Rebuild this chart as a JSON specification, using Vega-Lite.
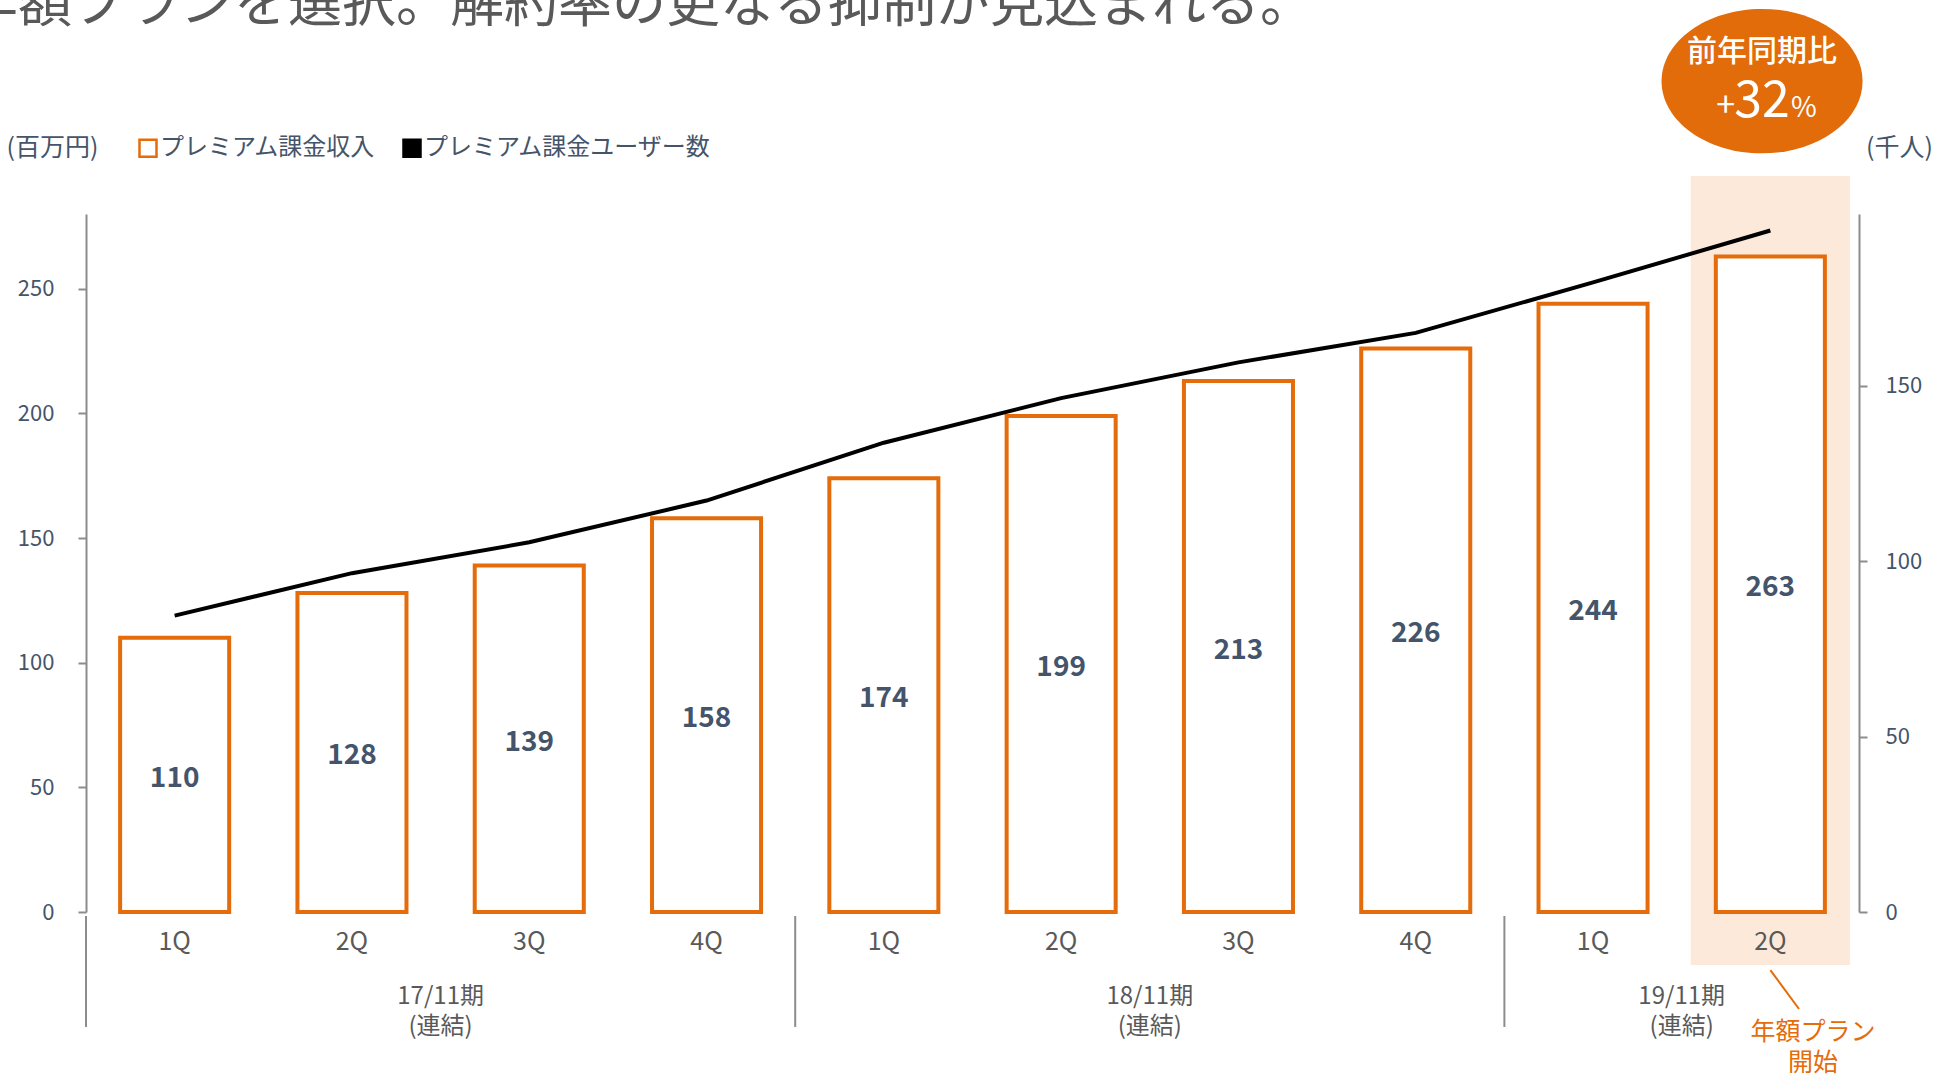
{
  "$schema": "https://vega.github.io/schema/vega-lite/v6.json",
  "width": 1773,
  "height": 698,
  "autosize": {"type": "none"},
  "padding": {"left": 86, "top": 214, "right": 76, "bottom": 162},
  "background": "white",
  "config": {"view": {"stroke": null}, "font": "Noto Sans CJK JP"},
  "title": {
    "text": "年額プランを選択。解約率の更なる抑制が見込まれる。",
    "anchor": "start",
    "frame": "group",
    "dx": -122,
    "offset": -78,
    "fontSize": 54,
    "fontWeight": "normal",
    "color": "#595959",
    "baseline": "bottom"
  },
  "datasets": {
    "main": [
      {"key": "17-1Q", "revenue": 110, "users": 84.5},
      {"key": "17-2Q", "revenue": 128, "users": 96.6},
      {"key": "17-3Q", "revenue": 139, "users": 105.4},
      {"key": "17-4Q", "revenue": 158, "users": 117.3},
      {"key": "18-1Q", "revenue": 174, "users": 133.8},
      {"key": "18-2Q", "revenue": 199, "users": 146.5},
      {"key": "18-3Q", "revenue": 213, "users": 156.7},
      {"key": "18-4Q", "revenue": 226, "users": 165.1},
      {"key": "19-1Q", "revenue": 244, "users": 179.5},
      {"key": "19-2Q", "revenue": 263, "users": 194.3}
    ],
    "periods": [
      {"key": "17-3Q", "label": ["17/11期", "(連結)"]},
      {"key": "18-3Q", "label": ["18/11期", "(連結)"]},
      {"key": "19-2Q", "label": ["19/11期", "(連結)"]}
    ],
    "dividers": [{"key": "17-1Q"}, {"key": "18-1Q"}, {"key": "19-1Q"}],
    "highlight": [
      {"key": "19-2Q", "note": ["年額プラン", "開始"], "badge": "前年同期比", "plus": "+", "num": "32", "pct": "%"}
    ]
  },
  "layer": [
    {
      "layer": [
        {
          "data": {"name": "highlight"},
          "mark": {"type": "bar", "width": {"band": 1.46}, "fill": "#FDE9D9", "strokeWidth": 0},
          "encoding": {
            "x": {"field": "key", "type": "nominal"},
            "y": {"datum": 295.2, "type": "quantitative", "scale": {"domain": [0, 280]}},
            "y2": {"datum": -21.3}
          }
        },
        {
          "data": {"name": "main"},
          "mark": {"type": "bar", "fill": "white", "strokeWidth": 4},
          "encoding": {
            "x": {
              "field": "key",
              "type": "nominal",
              "scale": {
                "domain": ["17-1Q", "17-2Q", "17-3Q", "17-4Q", "18-1Q", "18-2Q", "18-3Q", "18-4Q", "19-1Q", "19-2Q"],
                "paddingInner": 0.385,
                "paddingOuter": 0.1925
              },
              "axis": {
                "title": null,
                "labelExpr": "slice(datum.value, 3)",
                "bandPosition": 0.5,
                "zindex": 2,
                "domain": false,
                "ticks": false,
                "labelFontSize": 25,
                "labelColor": "#595959",
                "labelPadding": 29,
                "labelAlign": "center",
                "labelBaseline": "middle",
                "labelAngle": 0
              }
            },
            "y": {
              "field": "revenue",
              "type": "quantitative",
              "scale": {"domain": [0, 280]},
              "axis": {
                "values": [0, 50, 100, 150, 200, 250],
                "title": "(百万円)",
                "titleAngle": 0,
                "titleX": -34,
                "titleY": -67,
                "titleAlign": "center",
                "titleBaseline": "middle",
                "titleFontSize": 25,
                "titleFontWeight": "normal",
                "titleColor": "#44546A",
                "labelFontSize": 22,
                "labelColor": "#44546A",
                "labelPadding": 24,
                "tickSize": 8,
                "tickColor": "#8c8c8c",
                "tickWidth": 2,
                "domainColor": "#8c8c8c",
                "domainWidth": 2,
                "grid": false
              }
            },
            "stroke": {
              "datum": "プレミアム課金収入",
              "scale": {"domain": ["プレミアム課金収入", "プレミアム課金ユーザー数"], "range": ["#E46C0A", "#000000"]},
              "legend": {
                "orient": "none",
                "legendX": 50,
                "legendY": -78,
                "direction": "horizontal",
                "title": null,
                "symbolType": "square",
                "symbolSize": 289,
                "symbolStrokeWidth": 2.5,
                "labelFontSize": 24,
                "labelColor": "#44546A",
                "labelOffset": 0,
                "columnPadding": 22,
                "labelLimit": 600,
                "padding": 0,
                "encode": {
                  "symbols": {
                    "update": {
                      "fill": {"signal": "datum.value === 'プレミアム課金ユーザー数' ? '#000000' : 'transparent'"}
                    }
                  }
                }
              }
            }
          }
        },
        {
          "data": {"name": "main"},
          "mark": {"type": "text", "fontSize": 28, "fontWeight": "bold", "color": "#44546A", "baseline": "middle", "dy": 4},
          "encoding": {
            "x": {"field": "key", "type": "nominal"},
            "y": {"field": "revenue", "type": "quantitative", "stack": "zero", "bandPosition": 0.5},
            "text": {"field": "revenue", "type": "quantitative"}
          }
        },
        {
          "data": {"name": "highlight"},
          "mark": {
            "type": "point",
            "shape": "M -1 0 C -1 -0.3965 -0.5523 -0.718 0 -0.718 C 0.5523 -0.718 1 -0.3965 1 0 C 1 0.3965 0.5523 0.718 0 0.718 C -0.5523 0.718 -1 0.3965 -1 0 Z",
            "size": 40401,
            "filled": true,
            "fill": "#E26B0A",
            "opacity": 1,
            "strokeWidth": 0
          },
          "encoding": {
            "x": {"field": "key", "type": "nominal", "bandPosition": 0.424},
            "y": {"datum": 333.3, "type": "quantitative"}
          }
        },
        {
          "data": {"name": "highlight"},
          "mark": {"type": "text", "fontSize": 30, "fontWeight": 500, "color": "white", "baseline": "middle", "align": "center"},
          "encoding": {
            "x": {"field": "key", "type": "nominal", "bandPosition": 0.424},
            "y": {"datum": 345, "type": "quantitative"},
            "text": {"field": "badge"}
          }
        },
        {
          "data": {"name": "highlight"},
          "mark": {"type": "text", "fontSize": 34, "color": "white", "baseline": "alphabetic", "align": "right"},
          "encoding": {
            "x": {"field": "key", "type": "nominal", "bandPosition": 0.176},
            "y": {"datum": 318.9, "type": "quantitative"},
            "text": {"field": "plus"}
          }
        },
        {
          "data": {"name": "highlight"},
          "mark": {"type": "text", "fontSize": 50, "color": "white", "baseline": "alphabetic", "align": "center"},
          "encoding": {
            "x": {"field": "key", "type": "nominal", "bandPosition": 0.424},
            "y": {"datum": 318.9, "type": "quantitative"},
            "text": {"field": "num"}
          }
        },
        {
          "data": {"name": "highlight"},
          "mark": {"type": "text", "fontSize": 28, "color": "white", "baseline": "alphabetic", "align": "left"},
          "encoding": {
            "x": {"field": "key", "type": "nominal", "bandPosition": 0.69},
            "y": {"datum": 318.9, "type": "quantitative"},
            "text": {"field": "pct"}
          }
        },
        {
          "data": {"name": "dividers"},
          "mark": {"type": "rule", "color": "#8c8c8c", "strokeWidth": 2},
          "encoding": {
            "x": {"field": "key", "type": "nominal", "bandPosition": -0.313},
            "y": {"datum": -1.6, "type": "quantitative"},
            "y2": {"datum": -46.1}
          }
        },
        {
          "data": {"name": "periods"},
          "mark": {"type": "text", "fontSize": 24, "color": "#595959", "baseline": "middle", "lineHeight": 30},
          "encoding": {
            "x": {"field": "key", "type": "nominal", "bandPosition": -0.313},
            "y": {"datum": -33.9, "type": "quantitative"},
            "text": {"field": "label"}
          }
        },
        {
          "data": {"name": "highlight"},
          "mark": {"type": "rule", "color": "#E46C0A", "strokeWidth": 2},
          "encoding": {
            "x": {"field": "key", "type": "nominal", "bandPosition": 0.5},
            "x2": {"field": "key", "bandPosition": 0.763},
            "y": {"datum": -23.3, "type": "quantitative"},
            "y2": {"datum": -38.9}
          }
        },
        {
          "data": {"name": "highlight"},
          "mark": {"type": "text", "fontSize": 25, "color": "#E46C0A", "baseline": "middle", "lineHeight": 31},
          "encoding": {
            "x": {"field": "key", "type": "nominal", "bandPosition": 0.89},
            "y": {"datum": -48, "type": "quantitative"},
            "text": {"field": "note"}
          }
        }
      ]
    },
    {
      "data": {"name": "main"},
      "mark": {"type": "line", "strokeWidth": 4},
      "encoding": {
        "x": {"field": "key", "type": "nominal"},
        "y": {
          "field": "users",
          "type": "quantitative",
          "scale": {"domain": [0, 199]},
          "axis": {
            "orient": "right",
            "values": [0, 50, 100, 150],
            "title": "(千人)",
            "titleAngle": 0,
            "titleX": 40,
            "titleY": -67,
            "titleAlign": "center",
            "titleBaseline": "middle",
            "titleFontSize": 25,
            "titleFontWeight": "normal",
            "titleColor": "#44546A",
            "labelFontSize": 22,
            "labelColor": "#44546A",
            "labelPadding": 18,
            "tickSize": 8,
            "tickColor": "#8c8c8c",
            "tickWidth": 2,
            "domainColor": "#8c8c8c",
            "domainWidth": 2,
            "grid": false
          }
        },
        "stroke": {
          "datum": "プレミアム課金ユーザー数",
          "legend": {
            "orient": "none",
            "legendX": 50,
            "legendY": -78,
            "direction": "horizontal",
            "title": null,
            "symbolType": "square",
            "symbolSize": 289,
            "symbolStrokeWidth": 2.5,
            "labelFontSize": 24,
            "labelColor": "#44546A",
            "labelOffset": 0,
            "columnPadding": 22,
            "labelLimit": 600,
            "padding": 0,
            "encode": {
              "symbols": {
                "update": {
                  "fill": {"signal": "datum.value === 'プレミアム課金ユーザー数' ? '#000000' : 'transparent'"}
                }
              }
            }
          }
        }
      }
    }
  ],
  "resolve": {"scale": {"y": "independent"}}
}
